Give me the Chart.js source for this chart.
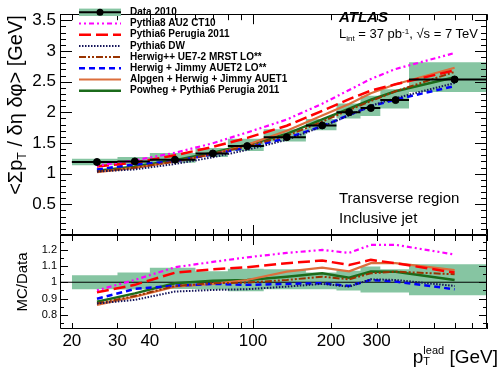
<!DOCTYPE html>
<html><head><meta charset="utf-8">
<script src="https://cdn.jsdelivr.net/npm/chart.js@4.4.1/dist/chart.umd.min.js"></script>
<style>
html,body{margin:0;padding:0;background:#fff;}
#wrap{position:relative;width:500px;height:373px;overflow:hidden;font-family:"Liberation Sans",Arial,sans-serif;background:#fff;}
canvas{position:absolute;left:0;top:0;}
.t{position:absolute;white-space:nowrap;color:#000;line-height:1;}
.sub{font-size:0.62em;position:relative;top:0.35em;}
.sup{font-size:0.62em;position:relative;top:-0.5em;}
</style></head><body>
<div id="wrap">
<canvas id="top" width="500" height="373" style="width:500px;height:373px"></canvas>
<canvas id="bot" width="500" height="373" style="width:500px;height:373px"></canvas>
<div class="t" id="ytitle" style="left:15px;top:105px;font-size:20px;transform:translate(-50%,-50%) rotate(-90deg);">&lt;&Sigma;p<span class="sub">T</span> / &delta;&eta; &delta;&phi;&gt; [GeV]</div>
<div class="t" id="ytitle2" style="left:21px;top:282px;font-size:15px;transform:translate(-50%,-50%) rotate(-90deg);">MC/Data</div>
<div class="t" style="left:339px;top:9px;font-size:15px;font-weight:bold;font-style:italic;">ATLAS</div>
<div class="t" style="left:339px;top:27px;font-size:13px;">L<span class="sub">int</span> = 37 pb<span class="sup">-1</span>, &radic;s = 7 TeV</div>
<div class="t" style="left:339px;top:190px;font-size:15px;">Transverse region</div>
<div class="t" style="left:339px;top:210px;font-size:15px;">Inclusive jet</div>
<div class="t" style="right:2px;top:347px;font-size:19px;">p<span style="display:inline-block;vertical-align:middle;font-size:11px;line-height:11px;text-align:left;position:relative;top:-2px;">lead<br>T</span> [GeV]</div>
</div>
<script>
// ---- data ----
const binLo = [20,30,40,60,80,110,160,210,260,310,400];
const binHi = [30,40,60,80,110,160,210,260,310,400,800];
const ptCenter = [25,35,50,70,95,135,185,235,285,355,600];
const data2010 = [1.19,1.20,1.227,1.33,1.45,1.595,1.786,2.003,2.07,2.20,2.536];
const systUp   = [0.052,0.071,0.11,0.09,0.12,0.128,0.107,0.14,0.2,0.176,0.279];
const systDown = [0.052,0.054,0.05,0.06,0.08,0.069,0.077,0.102,0.13,0.139,0.203];
const pythia8AU2       = [1.131,1.217,1.340,1.496,1.672,1.882,2.140,2.364,2.544,2.706,2.967];
const pythia6Perugia   = [1.117,1.181,1.299,1.436,1.583,1.782,2.024,2.215,2.354,2.457,2.686];
const pythia6DW        = [1.035,1.070,1.157,1.267,1.388,1.552,1.768,1.949,2.107,2.231,2.478];
const herwigppUE7      = [1.035,1.099,1.199,1.322,1.447,1.617,1.847,2.039,2.184,2.343,2.660];
const herwigJimmyAUET2 = [1.069,1.151,1.201,1.317,1.427,1.579,1.775,1.957,2.099,2.209,2.427];
const alpgenAUET1      = [1.025,1.094,1.194,1.317,1.470,1.699,1.947,2.137,2.312,2.457,2.726];
const powhegPerugia    = [1.048,1.118,1.220,1.343,1.470,1.649,1.884,2.059,2.205,2.343,2.572];
const xTickLabels = [20,30,40,100,200,300];
const xMinorTicks = [50,60,70,80,90,400,500,600,700,800];
const yTopLabels = [0.5,1,1.5,2,2.5,3,3.5];
const yBotLabels = [0.8,0.9,1,1.1,1.2];

const BAND = '#86c5a2';
const mcSeries = [
  {label:'Pythia8 AU2 CT10', values:pythia8AU2, color:'#ff00ff', dash:[2,3,2,3,5,3], width:2.2},
  {label:'Pythia6 Perugia 2011', values:pythia6Perugia, color:'#ff0000', dash:[12,5], width:2.5},
  {label:'Pythia6 DW', values:pythia6DW, color:'#14145a', dash:[1.5,1.5], width:2},
  {label:'Herwig++ UE7-2 MRST LO**', values:herwigppUE7, color:'#993300', dash:[7,2,2,2,2,2], width:2},
  {label:'Herwig + Jimmy AUET2 LO**', values:herwigJimmyAUET2, color:'#0000ff', dash:[6,4], width:2.5},
  {label:'Alpgen + Herwig + Jimmy AUET1', values:alpgenAUET1, color:'#dc6e3c', dash:[], width:2.2},
  {label:'Powheg + Pythia6 Perugia 2011', values:powhegPerugia, color:'#1b6b1b', dash:[], width:2.5}
];

// ---- helpers building library datasets ----
function bandEdge(vals){ const pts=[]; binLo.forEach((lo,i)=>{pts.push({x:lo,y:vals[i]});pts.push({x:binHi[i],y:vals[i]});}); return pts; }
const topUp = data2010.map((d,i)=>d+systUp[i]);
const topDn = data2010.map((d,i)=>d-systDown[i]);
const ratUp = data2010.map((d,i)=>(d+systUp[i])/d);
const ratDn = data2010.map((d,i)=>(d-systDown[i])/d);
const hbars = []; binLo.forEach((lo,i)=>{hbars.push({x:lo,y:data2010[i]});hbars.push({x:binHi[i],y:data2010[i]});hbars.push({x:binHi[i],y:null});});

function mcDatasets(ratio){
  return mcSeries.map(s=>({
    type:'line', label:s.label,
    data: ptCenter.map((x,i)=>({x, y: ratio ? s.values[i]/data2010[i] : s.values[i]})),
    borderColor:s.color, borderDash:s.dash, borderWidth:s.width, pointRadius:0, fill:false, tension:0, order:50
  }));
}

const xTicksAll = xTickLabels.concat(xMinorTicks).map(v=>({v, len: v===100?10:6}));
const yTopTicks = []; for(let i=0;i<=36;i++) yTopTicks.push({v:i/10, len: i%5===0?12:6});
const yBotTicks = []; for(let i=15;i<=25;i++) yBotTicks.push({v:i/20, len: i%2===0?8:4});

const frameTicks = {
  id:'frameTicks',
  afterDatasetsDraw(chart, args, o){
    const ctx=chart.ctx, a=chart.chartArea, xs=chart.scales.x, ys=chart.scales.y;
    ctx.save(); ctx.strokeStyle='#000'; ctx.lineWidth=1; ctx.setLineDash([]);
    ctx.beginPath();
    ctx.rect(Math.round(a.left)+0.5, Math.round(a.top)+0.5, Math.round(a.right-a.left)-1, Math.round(a.bottom-a.top)-1);
    for(const t of o.xTicks){ const px=Math.round(xs.getPixelForValue(t.v))+0.5; ctx.moveTo(px,a.bottom); ctx.lineTo(px,a.bottom-t.len); ctx.moveTo(px,a.top); ctx.lineTo(px,a.top+t.len); }
    for(const t of o.yTicks){ const py=Math.round(ys.getPixelForValue(t.v))+0.5; ctx.moveTo(a.left,py); ctx.lineTo(a.left+t.len,py); ctx.moveTo(a.right,py); ctx.lineTo(a.right-t.len,py); }
    ctx.stroke(); ctx.restore();
  }
};

const legendPlugin = {
  id:'atlasLegend',
  afterDraw(chart, args, o){
    if(!o.show) return;
    const ctx=chart.ctx; const x0=79,x1=121,tx=130,y0=12.3,dy=11.2;
    ctx.save();
    ctx.fillStyle=BAND; ctx.fillRect(x0,y0-3.7,x1-x0,7.4);
    ctx.strokeStyle='#000'; ctx.lineWidth=2; ctx.beginPath(); ctx.moveTo(x0,y0); ctx.lineTo(x1,y0); ctx.stroke();
    ctx.fillStyle='#000'; ctx.beginPath(); ctx.arc((x0+x1)/2,y0,3.5,0,Math.PI*2); ctx.fill();
    ctx.font='bold 10px "Liberation Sans", Arial, sans-serif'; ctx.textBaseline='middle';
    ctx.fillText('Data 2010',tx,y0);
    mcSeries.forEach((s,i)=>{
      const y=y0+dy*(i+1);
      ctx.strokeStyle=s.color; ctx.lineWidth=s.width; ctx.setLineDash(s.dash);
      ctx.beginPath(); ctx.moveTo(x0,y); ctx.lineTo(x1,y); ctx.stroke();
      ctx.setLineDash([]); ctx.fillStyle='#000'; ctx.fillText(s.label,tx,y);
    });
    ctx.restore();
  }
};

const FONT = '"Liberation Sans", Arial, sans-serif';
const baseX = (display, extra)=>Object.assign({type:'logarithmic', min:18, max:800, display,
  grid:{display:false, drawTicks:false}, border:{display:false}}, extra||{});

new Chart(document.getElementById('top'), {
  type:'line',
  data:{datasets:[
    {label:'syst up', data:bandEdge(topUp), borderWidth:0, borderColor:'rgba(0,0,0,0)', backgroundColor:BAND, pointRadius:0, fill:'+1', tension:0, order:100},
    {label:'syst down', data:bandEdge(topDn), borderWidth:0, borderColor:'rgba(0,0,0,0)', pointRadius:0, fill:false, tension:0, order:100},
    ...mcDatasets(false),
    {label:'Data bins', data:hbars, borderColor:'#000', borderWidth:2, pointRadius:0, spanGaps:false, fill:false, order:1},
    {label:'Data 2010', data:ptCenter.map((x,i)=>({x,y:data2010[i]})), showLine:false, pointRadius:3.5, pointBackgroundColor:'#000', pointBorderColor:'#000', order:0}
  ]},
  options:{
    responsive:false, animation:false, parsing:true,
    layout:{padding:{top:3,right:13,bottom:138,left:0}},
    plugins:{legend:{display:false}, tooltip:{enabled:false},
      frameTicks:{xTicks:xTicksAll, yTicks:yTopTicks}, atlasLegend:{show:true}},
    scales:{
      x: baseX(false),
      y:{type:'linear', min:0, max:3.6, grid:{display:false, drawTicks:false}, border:{display:false},
         afterFit(s){s.width=60;},
         afterBuildTicks(s){s.ticks=yTopLabels.map(v=>({value:v}));},
         ticks:{font:{family:FONT,size:17}, color:'#000', padding:4, callback:v=>String(v)}}
    }
  },
  plugins:[frameTicks, legendPlugin]
});

new Chart(document.getElementById('bot'), {
  type:'line',
  data:{datasets:[
    {label:'ratio syst up', data:bandEdge(ratUp), borderWidth:0, borderColor:'rgba(0,0,0,0)', backgroundColor:BAND, pointRadius:0, fill:'+1', tension:0, order:100},
    {label:'ratio syst down', data:bandEdge(ratDn), borderWidth:0, borderColor:'rgba(0,0,0,0)', pointRadius:0, fill:false, tension:0, order:100},
    {label:'unity', data:[{x:18,y:1},{x:800,y:1}], borderColor:'#000', borderWidth:1, pointRadius:0, fill:false, order:60},
    ...mcDatasets(true)
  ]},
  options:{
    responsive:false, animation:false,
    layout:{padding:{top:235,right:13,bottom:0,left:0}},
    plugins:{legend:{display:false}, tooltip:{enabled:false},
      frameTicks:{xTicks:xTicksAll, yTicks:yBotTicks}, atlasLegend:{show:false}},
    scales:{
      x: baseX(true, {
         afterFit(s){s.height=44;},
         afterBuildTicks(s){s.ticks=xTickLabels.map(v=>({value:v}));},
         ticks:{font:{family:FONT,size:17}, color:'#000', padding:2, autoSkip:false, maxRotation:0, callback:v=>String(v)}}),
      y:{type:'linear', min:0.713, max:1.29, grid:{display:false, drawTicks:false}, border:{display:false},
         afterFit(s){s.width=60;},
         afterBuildTicks(s){s.ticks=yBotLabels.map(v=>({value:v}));},
         ticks:{font:{family:FONT,size:11}, color:'#000', padding:3, callback:v=>(v===1?'1':v.toFixed(1))}}
    }
  },
  plugins:[frameTicks, legendPlugin]
});
</script>
</body></html>
